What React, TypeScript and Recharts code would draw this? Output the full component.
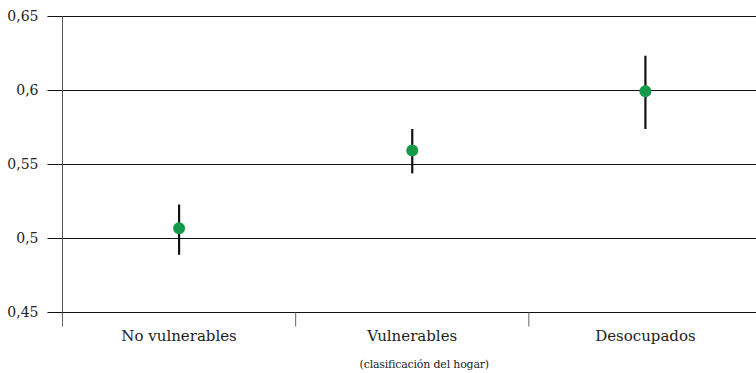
import React from "react";
import {
  ComposedChart,
  Scatter,
  XAxis,
  YAxis,
  CartesianGrid,
  ErrorBar,
  Label,
} from "recharts";

const categories = ["No vulnerables", "Vulnerables", "Desocupados"];
const values = [0.507, 0.5595, 0.5995];
const lowerBounds = [0.489, 0.544, 0.574];
const upperBounds = [0.523, 0.574, 0.6235];
const yTicks = [0.45, 0.5, 0.55, 0.6, 0.65];
const boundaryTicks = [0, 1, 2, 3];
const centerTicks = [0.5, 1.5, 2.5];

const data = categories.map((c, i) => ({
  name: c,
  x: i + 0.5,
  y: values[i],
  err: [values[i] - lowerBounds[i], upperBounds[i] - values[i]],
}));

const FONT = "'DejaVu Serif', serif";

const Dot = (props: any) => (
  <circle cx={props.cx} cy={props.cy} r={6} fill="#159a4a" />
);

export default function App() {
  return (
    <div
      style={{
        position: "absolute",
        left: 0,
        top: 0,
        width: 756,
        height: 373,
        overflow: "hidden",
        background: "#fff",
      }}
    >
      <ComposedChart
        width={762}
        height={373}
        data={data}
        margin={{ top: 16.5, right: 0, left: 0, bottom: 0 }}
        style={{ fontFamily: FONT }}
      >
        <CartesianGrid horizontal={true} vertical={false} stroke="#111" strokeWidth={1} />
        <XAxis
          xAxisId="bounds"
          type="number"
          dataKey="x"
          domain={[0, 3]}
          ticks={boundaryTicks}
          tickFormatter={() => ""}
          tickSize={14}
          height={14}
          axisLine={{ stroke: "#111" }}
          tickLine={{ stroke: "#666" }}
        />
        <XAxis
          xAxisId="cats"
          type="number"
          dataKey="x"
          domain={[0, 3]}
          ticks={centerTicks}
          tickFormatter={(v: number) => categories[Math.floor(v)]}
          axisLine={false}
          tickLine={false}
          tickSize={0}
          tickMargin={4}
          height={46.5}
          tick={{ fill: "#222", fontSize: 15, fontFamily: FONT }}
        >
          <Label
            value="(clasificación del hogar)"
            position="insideBottom"
            offset={5}
            dx={12}
            style={{ fontSize: 11, letterSpacing: -0.2, fill: "#222", fontFamily: FONT }}
          />
        </XAxis>
        <YAxis
          type="number"
          domain={[0.45, 0.65]}
          ticks={yTicks}
          width={62.5}
          tickSize={15}
          tickMargin={9}
          tickFormatter={(v: number) => String(v).replace(".", ",")}
          axisLine={{ stroke: "#555" }}
          tickLine={{ stroke: "#111" }}
          tick={{ fill: "#222", fontSize: 14, fontFamily: FONT }}
          allowDataOverflow
        />
        <Scatter
          xAxisId="bounds"
          dataKey="y"
          data={data}
          shape={Dot}
          isAnimationActive={false}
        >
          <ErrorBar
            dataKey="err"
            direction="y"
            width={0}
            stroke="#111"
            strokeWidth={2.2}
            isAnimationActive={false}
          />
        </Scatter>
      </ComposedChart>
    </div>
  );
}
